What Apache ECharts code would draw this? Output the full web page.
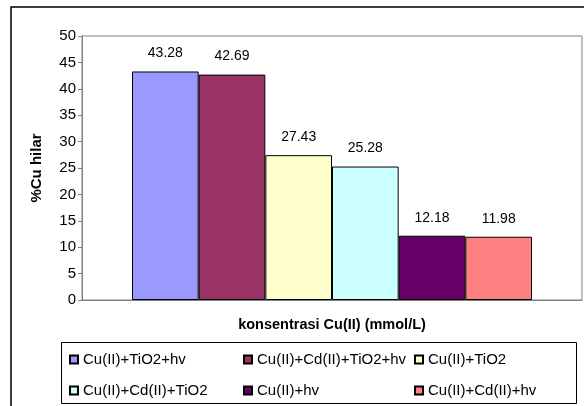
<!DOCTYPE html>
<html>
<head>
<meta charset="utf-8">
<script src="https://cdn.jsdelivr.net/npm/echarts@6/dist/echarts.min.js"></script>
<style>
  html, body { margin: 0; padding: 0; background: #fff; }
  #chart { width: 584px; height: 406px; }
</style>
</head>
<body>
<div id="chart"></div>
<script>
// Removal percentage of Cu(II) for each treatment
const categories = ['konsentrasi'];
const seriesNames = [
  'Cu(II)+TiO2+hv',
  'Cu(II)+Cd(II)+TiO2+hv',
  'Cu(II)+TiO2',
  'Cu(II)+Cd(II)+TiO2',
  'Cu(II)+hv',
  'Cu(II)+Cd(II)+hv'
];
const seriesValues = [43.28, 42.69, 27.43, 25.28, 12.18, 11.98];
const seriesColors = ['#9999FF', '#993366', '#FFFFCC', '#CCFFFF', '#660066', '#FF8080'];
const yTicks = [0, 5, 10, 15, 20, 25, 30, 35, 40, 45, 50];

const FONT = 'Liberation Sans, Arial, sans-serif';

const series = seriesNames.map((name, i) => ({
  name: name,
  type: 'bar',
  data: [seriesValues[i]],
  barGap: '0%',
  barCategoryGap: '20%',
  itemStyle: { color: seriesColors[i], borderColor: '#000', borderWidth: 1 },
  label: {
    show: true,
    position: 'top',
    distance: 11,
    color: '#000',
    fontFamily: FONT,
    fontSize: 14,
    letterSpacing: -0.5,
    formatter: p => p.value.toFixed(2)
  }
}));

// Legend laid out as a 3 x 2 table inside a framed box
const legendCols = [69, 243, 414];
const legendRows = [352, 383];
const legends = seriesNames.map((name, i) => ({
  data: [name],
  left: legendCols[i % 3],
  top: legendRows[Math.floor(i / 3)],
  padding: 0,
  orient: 'horizontal',
  icon: 'rect',
  itemWidth: 8,
  itemHeight: 8,
  itemGap: 0,
  selectedMode: false,
  textStyle: { color: '#000', fontFamily: FONT, fontSize: 15 }
}));

const chart = echarts.init(document.getElementById('chart'), null, { renderer: 'canvas' });
chart.setOption({
  animation: false,
  backgroundColor: '#fff',
  grid: {
    left: 82, right: 2, top: 36, bottom: 106,
    show: true, borderColor: '#808080', borderWidth: 1, backgroundColor: '#fff'
  },
  xAxis: {
    type: 'category',
    data: categories,
    name: 'konsentrasi Cu(II) (mmol/L)',
    nameLocation: 'middle',
    nameGap: 17,
    nameTextStyle: { color: '#000', fontFamily: FONT, fontSize: 14.5, fontWeight: 'bold', letterSpacing: -0.4 },
    axisLine: { show: true, lineStyle: { color: '#808080' } },
    axisTick: { show: false },
    axisLabel: { show: false }
  },
  yAxis: {
    type: 'value',
    min: yTicks[0],
    max: yTicks[yTicks.length - 1],
    interval: yTicks[1] - yTicks[0],
    name: '%Cu hilar',
    nameLocation: 'middle',
    nameGap: 38,
    nameTextStyle: { color: '#000', fontFamily: FONT, fontSize: 15, fontWeight: 'bold' },
    axisLine: { show: true, lineStyle: { color: '#808080' } },
    axisTick: { show: true, length: 4, lineStyle: { color: '#808080' } },
    axisLabel: { color: '#000', fontFamily: FONT, fontSize: 15, letterSpacing: -0.8, margin: 6 },
    splitLine: { show: false }
  },
  legend: legends,
  series: series,
  graphic: [
    // outer chart frame (left and top edges visible)
    {
      type: 'rect', silent: true, z: -1,
      shape: { x: 11, y: 7, width: 700, height: 500 },
      style: { fill: 'none', stroke: '#000', lineWidth: 1.5 }
    },
    // legend box
    {
      type: 'rect', silent: true,
      shape: { x: 61.5, y: 342.5, width: 515, height: 61 },
      style: { fill: 'none', stroke: '#000', lineWidth: 1 }
    }
  ]
});
</script>
</body>
</html>
